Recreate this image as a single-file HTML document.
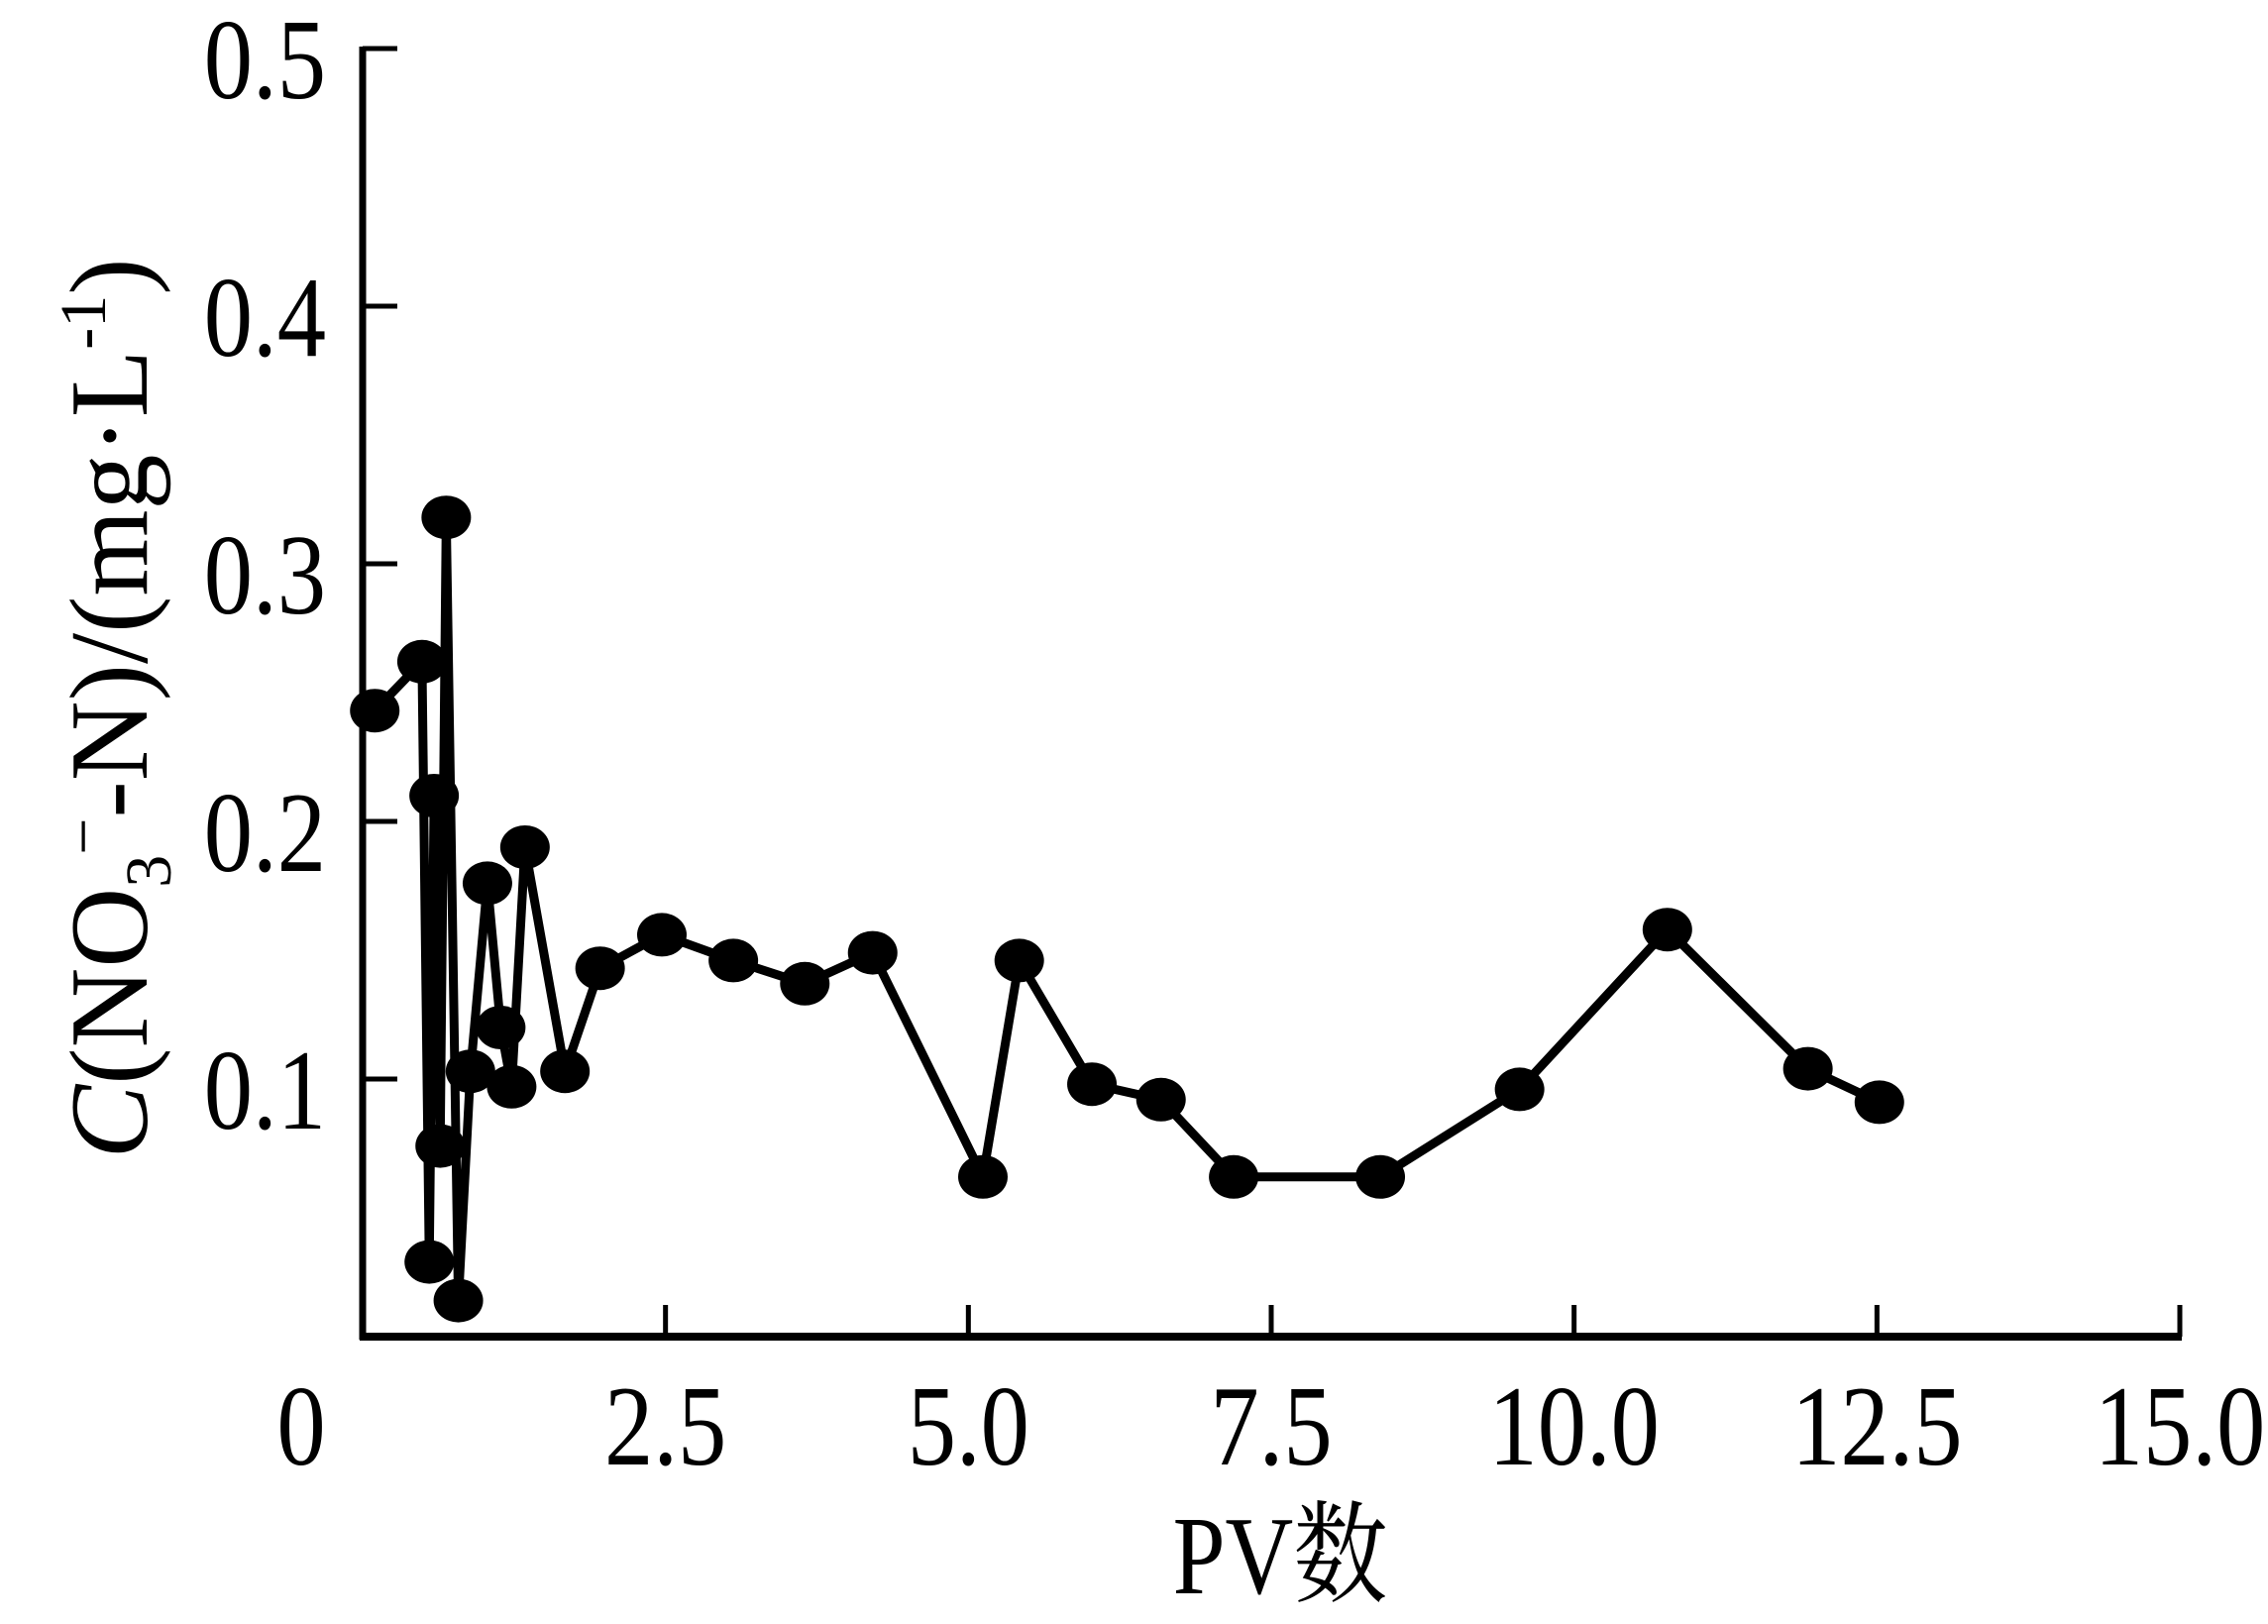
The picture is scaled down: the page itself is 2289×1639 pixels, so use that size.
<!DOCTYPE html>
<html><head><meta charset="utf-8"><style>
html,body{margin:0;padding:0;background:#fff}
svg{display:block}
text{font-family:"Liberation Serif","Noto Serif CJK SC",serif;fill:#000}
</style></head><body>
<svg id="chart" width="2289" height="1639" viewBox="0 0 2289 1639" xmlns="http://www.w3.org/2000/svg">
<g id="axes"></g>
<g id="series"></g>
<text transform="translate(1292,1608) scale(0.85,1)" font-size="112" text-anchor="middle">PV数</text>
<text transform="translate(148,715) rotate(-90)" font-size="112" text-anchor="middle"><tspan font-style="italic">C</tspan>(NO<tspan font-size="66" dy="24">3</tspan><tspan font-size="66" dy="-66">−</tspan><tspan dy="42">-N)/(mg·L</tspan><tspan font-size="66" dy="-42">-1</tspan><tspan dy="42">)</tspan></text>
</svg>
<script>
const xTicks = [0, 2.5, 5.0, 7.5, 10.0, 12.5, 15.0];
const xTickLabels = ["0", "2.5", "5.0", "7.5", "10.0", "12.5", "15.0"];
const yTicks = [0.1, 0.2, 0.3, 0.4, 0.5];
const yTickLabels = ["0.1", "0.2", "0.3", "0.4", "0.5"];
const pvValues = [0.1, 0.49, 0.55, 0.59, 0.64, 0.69, 0.79, 0.89, 1.03, 1.14, 1.23, 1.34, 1.67, 1.96, 2.47, 3.06, 3.65, 4.21, 5.12, 5.42, 6.02, 6.59, 7.19, 8.4, 9.55, 10.77, 11.93, 12.52];
const concValues = [0.243, 0.262, 0.029, 0.210, 0.074, 0.318, 0.014, 0.103, 0.176, 0.120, 0.097, 0.190, 0.103, 0.143, 0.156, 0.146, 0.137, 0.149, 0.062, 0.146, 0.098, 0.092, 0.062, 0.062, 0.096, 0.158, 0.104, 0.091];

const X0 = 366, X1 = 2200, Y0 = 1349, Y1 = 49;
function xs(v){ return X0 + (v - 0) / 15 * (X1 - X0); }
function ys(v){ return Y0 - v / 0.5 * (Y0 - Y1); }
const NS = "http://www.w3.org/2000/svg";
function mk(tag, attrs, parent){
  const e = document.createElementNS(NS, tag);
  for (const k in attrs) e.setAttribute(k, attrs[k]);
  parent.appendChild(e);
  return e;
}
const axes = document.getElementById('axes');
const series = document.getElementById('series');

let a = mk('line', {x1: X0, y1: Y1 - 2, x2: X0, y2: Y0 + 3, stroke: '#000', 'stroke-width': 7}, axes);


a = mk('line', {x1: X0 - 3, y1: Y0, x2: X1 + 2, y2: Y0, stroke: '#000', 'stroke-width': 8}, axes);



yTicks.forEach((t, i) => {
  const y = ys(t);
  const l = mk('line', {x1: X0, y1: y, x2: X0 + 35, y2: y, stroke: '#000', 'stroke-width': 5}, axes);
  
  
  const tx = mk('text', {transform: 'translate(329,' + (y + 50) + ') scale(0.85,1)', 'font-size': 116, 'text-anchor': 'end'}, axes);
  tx.textContent = yTickLabels[i];
  
  
});
xTicks.forEach((t, i) => {
  const x = xs(t);
  if (i > 0) {
    const l = mk('line', {x1: x, y1: Y0, x2: x, y2: Y0 - 32, stroke: '#000', 'stroke-width': 5}, axes);
    
    
  }
  const tx = mk('text', {transform: 'translate(' + (i === 0 ? 304 : x) + ',1478) scale(0.85,1)', 'font-size': 116, 'text-anchor': 'middle'}, axes);
  tx.textContent = xTickLabels[i];
  
  
});

const pts = pvValues.map((v, i) => xs(v) + ',' + ys(concValues[i])).join(' ');
const pl = mk('polyline', {points: pts, fill: 'none', stroke: '#000', 'stroke-width': 9, 'stroke-linejoin': 'miter'}, series);


pvValues.forEach((v, i) => {
  const e = mk('ellipse', {cx: xs(v), cy: ys(concValues[i]), rx: 25, ry: 22, fill: '#000'}, series);
  
  
});
</script>
</body></html>
